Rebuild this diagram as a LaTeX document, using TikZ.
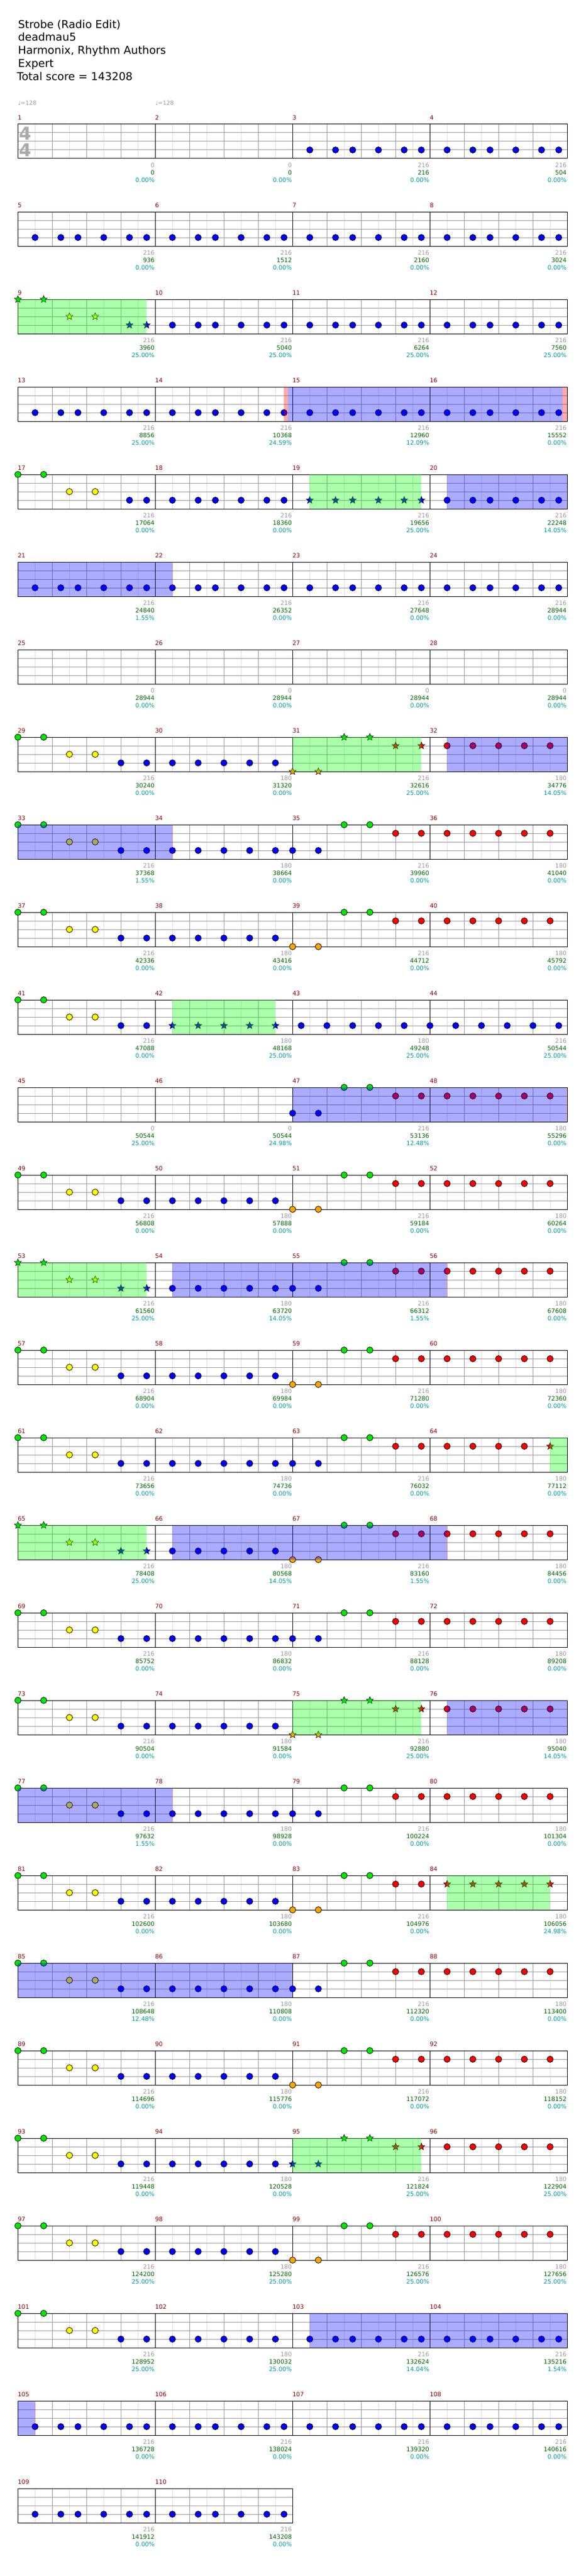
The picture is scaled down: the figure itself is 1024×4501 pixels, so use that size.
\documentclass[tikz,border=0pt]{standalone}
\usepackage{fontspec}
\setmainfont{DejaVu Sans}
\usetikzlibrary{shapes.geometric}

\definecolor{barnum}{RGB}{140,0,0}
\definecolor{basegray}{RGB}{153,153,153}
\definecolor{totgreen}{RGB}{0,100,0}
\definecolor{spteal}{RGB}{0,153,153}
\definecolor{gridgray}{RGB}{153,153,153}
\definecolor{gridlight}{RGB}{221,221,221}
\definecolor{tsgray}{RGB}{170,170,170}
\definecolor{gemgreen}{RGB}{0,230,0}
\definecolor{gemred}{RGB}{255,0,0}
\definecolor{gemyellow}{RGB}{255,255,0}
\definecolor{gemblue}{RGB}{0,0,255}
\definecolor{gemorange}{RGB}{255,165,0}

% one staff row: #1 row, #2 measures
\newcommand{\staffrow}[2]{%
  \pgfmathsetmacro\sT{217+153*#1}%
  \pgfmathsetmacro\sR{31.3+240*#2}%
  \foreach \c in {1,...,#2}{
    \foreach \h in {30,90,150,210}
      \draw[halfbeat] ({31.3+240*(\c-1)+\h},\sT) -- ++(0,60);
    \foreach \h in {60,120,180}
      \draw[beat] ({31.3+240*(\c-1)+\h},\sT) -- ++(0,60);
  }
  \foreach \l in {15,30,45}
    \draw[beat] (31.3,\sT+\l) -- (\sR,\sT+\l);
  \foreach \c in {0,...,#2}
    \draw[barline] ({31.3+240*\c},\sT) -- ++(0,60);
  \draw[barline] (31.3,\sT) rectangle (\sR,\sT+60);
}

% one gem: #1 measure, #2 lane, #3 sixteenth, #4 style
\newcommand{\gemat}[4]{%
  \pgfmathsetmacro\gx{31.3+240*mod(#1-1,4)+15*(#3)}%
  \pgfmathsetmacro\gy{217+153*floor((#1-1)/4)+15*(#2)}%
  \ifcase#2\relax\def\gc{gemgreen}\or\def\gc{gemred}\or\def\gc{gemyellow}\or\def\gc{gemblue}\or\def\gc{gemorange}\fi
  \node[#4,fill=\gc] (gem-#1-#2-#3) at (\gx,\gy) {};
}

% measure patterns
\newcommand{\pOne}[2]{\foreach \s in {2,5,7,10,13,15}{\gemat{#1}{3}{\s}{#2}}}
\newcommand{\pA}[2]{\foreach \l/\s in {0/0,0/3,2/6,2/9,3/12,3/15}{\gemat{#1}{\l}{\s}{#2}}}
\newcommand{\pAx}[2]{\foreach \l/\s in {0/0,0/3,2/6,2/9,3/13,3/15}{\gemat{#1}{\l}{\s}{#2}}}
\newcommand{\pB}[2]{\foreach \s in {2,5,8,11,14}{\gemat{#1}{3}{\s}{#2}}}
\newcommand{\pC}[3]{\foreach \l/\s in {#2/0,#2/3,0/6,0/9,1/12,1/15}{\gemat{#1}{\l}{\s}{#3}}}
\newcommand{\pD}[2]{\foreach \s in {2,5,8,11,14}{\gemat{#1}{1}{\s}{#2}}}

% shaded zone: #1 row, #2 from x, #3 to x, #4 style
\newcommand{\zone}[4]{\fill[#4] (#2,{217+153*#1}) rectangle (#3,{217+153*#1+60});}

\begin{document}
\begin{tikzpicture}[x=1pt,y=-1pt,
  halfbeat/.style={draw=gridlight,line width=1pt},
  beat/.style={draw=gridgray,line width=1pt},
  barline/.style={draw=black,line width=1pt},
  gem/.style={circle,draw=black,line width=0.8pt,inner sep=0pt,minimum size=11pt},
  stargem/.style={star,star points=5,star point ratio=2.3,draw=black,line width=0.6pt,inner sep=0pt,minimum size=13pt},
  titlelbl/.style={anchor=base west,inner sep=0pt,font=\fontsize{19}{23}\selectfont},
  tempolbl/.style={anchor=base west,inner sep=0pt,text=basegray,font=\fontsize{10}{12}\selectfont},
  tslbl/.style={anchor=base,inner sep=0pt,text=tsgray,font=\fontsize{31}{31}\selectfont\bfseries},
  barlbl/.style={anchor=base west,inner sep=0pt,text=barnum,font=\fontsize{10.5}{12}\selectfont},
  baselbl/.style={anchor=base east,inner sep=0pt,text=basegray,font=\fontsize{10.5}{12}\selectfont},
  totlbl/.style={anchor=base east,inner sep=0pt,text=totgreen,font=\fontsize{10.5}{12}\selectfont},
  splbl/.style={anchor=base east,inner sep=0pt,text=spteal,font=\fontsize{10.5}{12}\selectfont},
  phrase/.style={fill=green,fill opacity=0.33},
  activation/.style={fill=blue,fill opacity=0.33},
  squeeze/.style={fill=red,fill opacity=0.33}]

\fill[white] (0,0) rectangle (1024,4501);
\useasboundingbox (0,0) rectangle (1024,4501);

% header
\node[titlelbl] (song) at (31.3,49.3) {Strobe (Radio Edit)};
\node[titlelbl] (artist) at (31.3,71.7) {deadmau5};
\node[titlelbl] (charter) at (31.3,95) {Harmonix, Rhythm Authors};
\node[titlelbl] (level) at (31.3,117.3) {Expert};
\node[titlelbl] (score) at (29.5,140.7) {Total score = 143208};
\node[tempolbl] (bpm1) at (31.3,184) {♩=128};
\node[tempolbl] (bpm2) at (271.3,184) {♩=128};

% staves
\foreach \r in {0,...,26}{\staffrow{\r}{4}}
\staffrow{27}{2}
\node[tslbl] (tsnum) at (44.3,245) {4};
\node[tslbl] (tsden) at (44.3,274) {4};

% gems
\foreach \m in {3,...,8,10,11,12,13,14,15,16,18,20,21,22,23,24,103,104,105,106,107,108,109,110}{\pOne{\m}{gem}}
\pOne{19}{stargem}
\pAx{9}{stargem}
\pAx{17}{gem}
\foreach \m in {29,33,37,41,49,57,61,69,73,77,81,85,89,93,97,101}{\pA{\m}{gem}}
\pA{53}{stargem} \pA{65}{stargem}
\foreach \m in {30,34,38,50,54,58,62,66,70,74,78,82,86,90,94,98,102}{\pB{\m}{gem}}
\pB{42}{stargem}
\foreach \m in {39,51,59,67,83,91,99}{\pC{\m}{4}{gem}}
\pC{31}{4}{stargem} \pC{75}{4}{stargem}
\foreach \m in {35,47,55,63,71,79,87}{\pC{\m}{3}{gem}}
\pC{95}{3}{stargem}
\foreach \m in {32,36,40,48,52,56,60,68,72,76,80,88,92,96,100}{\pD{\m}{gem}}
\pD{84}{stargem}
\foreach \s in {2,5,8,11}{\gemat{64}{1}{\s}{gem}}
\gemat{64}{1}{14}{stargem}
\foreach \s in {1,4,7,10,13}{\gemat{43}{3}{\s}{gem}}
\foreach \s in {0,3,6,9,12,15}{\gemat{44}{3}{\s}{gem}}

% star power phrases
\zone{2}{31.3}{256.3}{phrase}
\zone{4}{541.3}{736.3}{phrase}
\zone{7}{511.3}{736.3}{phrase}
\zone{10}{301.3}{481.3}{phrase}
\zone{13}{31.3}{256.3}{phrase}
\zone{15}{961.3}{991.3}{phrase}
\zone{16}{31.3}{256.3}{phrase}
\zone{18}{511.3}{736.3}{phrase}
\zone{20}{781.3}{961.3}{phrase}
\zone{23}{511.3}{736.3}{phrase}

% activations
\zone{3}{496.4}{502.8}{squeeze}
\zone{3}{502.8}{983.2}{activation}
\zone{3}{983.2}{991.3}{squeeze}
\zone{4}{781.3}{991.3}{activation}
\zone{5}{31.3}{301.3}{activation}
\zone{5}{301.3}{302.3}{squeeze}
\zone{7}{781.3}{991.3}{activation}
\zone{8}{31.3}{301.3}{activation}
\zone{8}{301.3}{302.3}{squeeze}
\zone{11}{511.3}{990.3}{activation}
\zone{11}{990.3}{991.3}{squeeze}
\zone{13}{301.3}{781.3}{activation}
\zone{13}{781.3}{782.3}{squeeze}
\zone{16}{301.3}{781.3}{activation}
\zone{16}{781.3}{782.3}{squeeze}
\zone{18}{781.3}{991.3}{activation}
\zone{19}{31.3}{301.3}{activation}
\zone{19}{301.3}{302.3}{squeeze}
\zone{21}{31.3}{511.3}{activation}
\zone{25}{541.3}{991.3}{activation}
\zone{26}{31.3}{61.3}{activation}
\zone{26}{61.3}{62.3}{squeeze}

% measure numbers and scores
\foreach \ms/\mbase/\mtot/\mpct in {1/0/0/0.00, 2/0/0/0.00, 3/216/216/0.00, 4/216/504/0.00,
  5/216/936/0.00, 6/216/1512/0.00, 7/216/2160/0.00, 8/216/3024/0.00,
  9/216/3960/25.00, 10/216/5040/25.00, 11/216/6264/25.00, 12/216/7560/25.00,
  13/216/8856/25.00, 14/216/10368/24.59, 15/216/12960/12.09, 16/216/15552/0.00,
  17/216/17064/0.00, 18/216/18360/0.00, 19/216/19656/25.00, 20/216/22248/14.05,
  21/216/24840/1.55, 22/216/26352/0.00, 23/216/27648/0.00, 24/216/28944/0.00,
  25/0/28944/0.00, 26/0/28944/0.00, 27/0/28944/0.00, 28/0/28944/0.00,
  29/216/30240/0.00, 30/180/31320/0.00, 31/216/32616/25.00, 32/180/34776/14.05,
  33/216/37368/1.55, 34/180/38664/0.00, 35/216/39960/0.00, 36/180/41040/0.00,
  37/216/42336/0.00, 38/180/43416/0.00, 39/216/44712/0.00, 40/180/45792/0.00,
  41/216/47088/0.00, 42/180/48168/25.00, 43/180/49248/25.00, 44/216/50544/25.00,
  45/0/50544/25.00, 46/0/50544/24.98, 47/216/53136/12.48, 48/180/55296/0.00,
  49/216/56808/0.00, 50/180/57888/0.00, 51/216/59184/0.00, 52/180/60264/0.00,
  53/216/61560/25.00, 54/180/63720/14.05, 55/216/66312/1.55, 56/180/67608/0.00,
  57/216/68904/0.00, 58/180/69984/0.00, 59/216/71280/0.00, 60/180/72360/0.00,
  61/216/73656/0.00, 62/180/74736/0.00, 63/216/76032/0.00, 64/180/77112/0.00,
  65/216/78408/25.00, 66/180/80568/14.05, 67/216/83160/1.55, 68/180/84456/0.00,
  69/216/85752/0.00, 70/180/86832/0.00, 71/216/88128/0.00, 72/180/89208/0.00,
  73/216/90504/0.00, 74/180/91584/0.00, 75/216/92880/25.00, 76/180/95040/14.05,
  77/216/97632/1.55, 78/180/98928/0.00, 79/216/100224/0.00, 80/180/101304/0.00,
  81/216/102600/0.00, 82/180/103680/0.00, 83/216/104976/0.00, 84/180/106056/24.98,
  85/216/108648/12.48, 86/180/110808/0.00, 87/216/112320/0.00, 88/180/113400/0.00,
  89/216/114696/0.00, 90/180/115776/0.00, 91/216/117072/0.00, 92/180/118152/0.00,
  93/216/119448/0.00, 94/180/120528/0.00, 95/216/121824/25.00, 96/180/122904/25.00,
  97/216/124200/25.00, 98/180/125280/25.00, 99/216/126576/25.00, 100/180/127656/25.00,
  101/216/128952/25.00, 102/180/130032/25.00, 103/216/132624/14.04, 104/216/135216/1.54,
  105/216/136728/0.00, 106/216/138024/0.00, 107/216/139320/0.00, 108/216/140616/0.00,
  109/216/141912/0.00, 110/216/143208/0.00}{
  \pgfmathsetmacro\mx{31.3+240*mod(\ms-1,4)}
  \pgfmathsetmacro\mT{217+153*floor((\ms-1)/4)}
  \node[barlbl] (bar\ms) at (\mx-0.5,\mT-7.3) {\ms};
  \node[baselbl] (base\ms) at (\mx+239,\mT+75.4) {\mbase};
  \node[totlbl] (tot\ms) at (\mx+239,\mT+88.4) {\mtot};
  \node[splbl] (sp\ms) at (\mx+239,\mT+101) {\mpct\%};
}
\end{tikzpicture}
\end{document}
